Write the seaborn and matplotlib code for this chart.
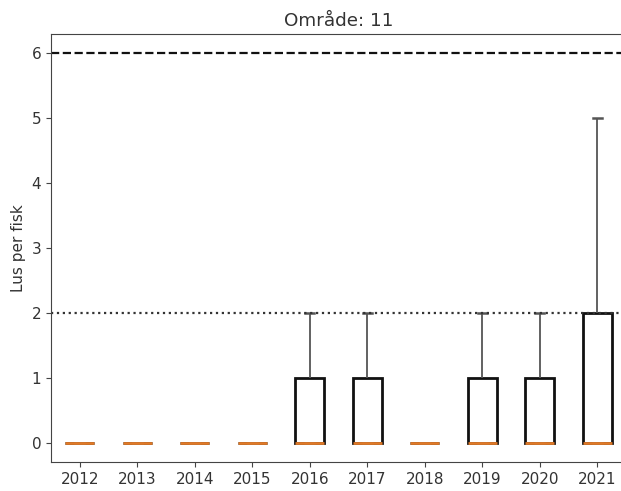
import pandas as pd
import numpy as np
import matplotlib
matplotlib.use('Agg')
import matplotlib.pyplot as plt
import seaborn as sns

# lice per fish, samples per year (read from box/whisker levels)
years = ['2012', '2013', '2014', '2015', '2016', '2017', '2018', '2019', '2020', '2021']
lus = {
    '2012': [0, 0, 0, 0],
    '2013': [0, 0, 0, 0],
    '2014': [0, 0, 0, 0],
    '2015': [0, 0, 0, 0],
    '2016': [0, 0, 0, 0, 1, 1, 2],
    '2017': [0, 0, 0, 0, 1, 1, 2],
    '2018': [0, 0, 0, 0],
    '2019': [0, 0, 0, 0, 1, 1, 2],
    '2020': [0, 0, 0, 0, 1, 1, 2],
    '2021': [0, 0, 0, 0, 2, 2, 5],
}
grense_hoy = 6
grense_lav = 2

rows = [(y, v) for y in years for v in lus[y]]
df = pd.DataFrame(rows, columns=['år', 'lus'])

plt.rcParams['font.family'] = ['DejaVu Sans']
plt.rcParams['font.size'] = 11
plt.rcParams['text.color'] = '#333333'
plt.rcParams['xtick.color'] = '#444444'
plt.rcParams['ytick.color'] = '#444444'
plt.rcParams['xtick.labelcolor'] = '#333333'
plt.rcParams['ytick.labelcolor'] = '#333333'
plt.rcParams['axes.labelcolor'] = '#333333'

fig = plt.figure(figsize=(6.21, 4.91), dpi=100)
# axes run just past the right edge of the picture (cropped original)
ax = fig.add_axes([0.082, 0.059, 0.926, 0.872])

sns.boxplot(data=df, x='år', y='lus', order=years, ax=ax, width=0.5,
            color='white', linecolor='black', linewidth=1.0, whis=1.5,
            boxprops={'facecolor': 'white', 'edgecolor': '#111111', 'linewidth': 2},
            medianprops={'color': '#e07a28', 'linewidth': 2},
            whiskerprops={'color': '#555555', 'linewidth': 1.3},
            capprops={'color': '#555555', 'linewidth': 1.8})

# shorter caps like the original
for line in ax.lines:
    xd = line.get_xdata()
    yd = line.get_ydata()
    if len(xd) == 2 and yd[0] == yd[1] and line.get_color() == '#555555':
        c = (xd[0] + xd[1]) / 2
        line.set_xdata([c - 0.08, c + 0.08])

ax.axhline(grense_hoy, color='#111111', linestyle='--', linewidth=1.6)
ax.axhline(grense_lav, color='#333333', linestyle=':', linewidth=1.6)

ax.set_xlim(-0.5, 9.5)
ax.set_ylim(-0.3, 6.3)
ax.set_yticks([0, 1, 2, 3, 4, 5, 6])
ax.set_xlabel('')
ax.set_ylabel('Lus per fisk')
ax.set_title('Område: 11')
for s in ax.spines.values():
    s.set_color('#444444')

fig.savefig('out.png', dpi=100)
